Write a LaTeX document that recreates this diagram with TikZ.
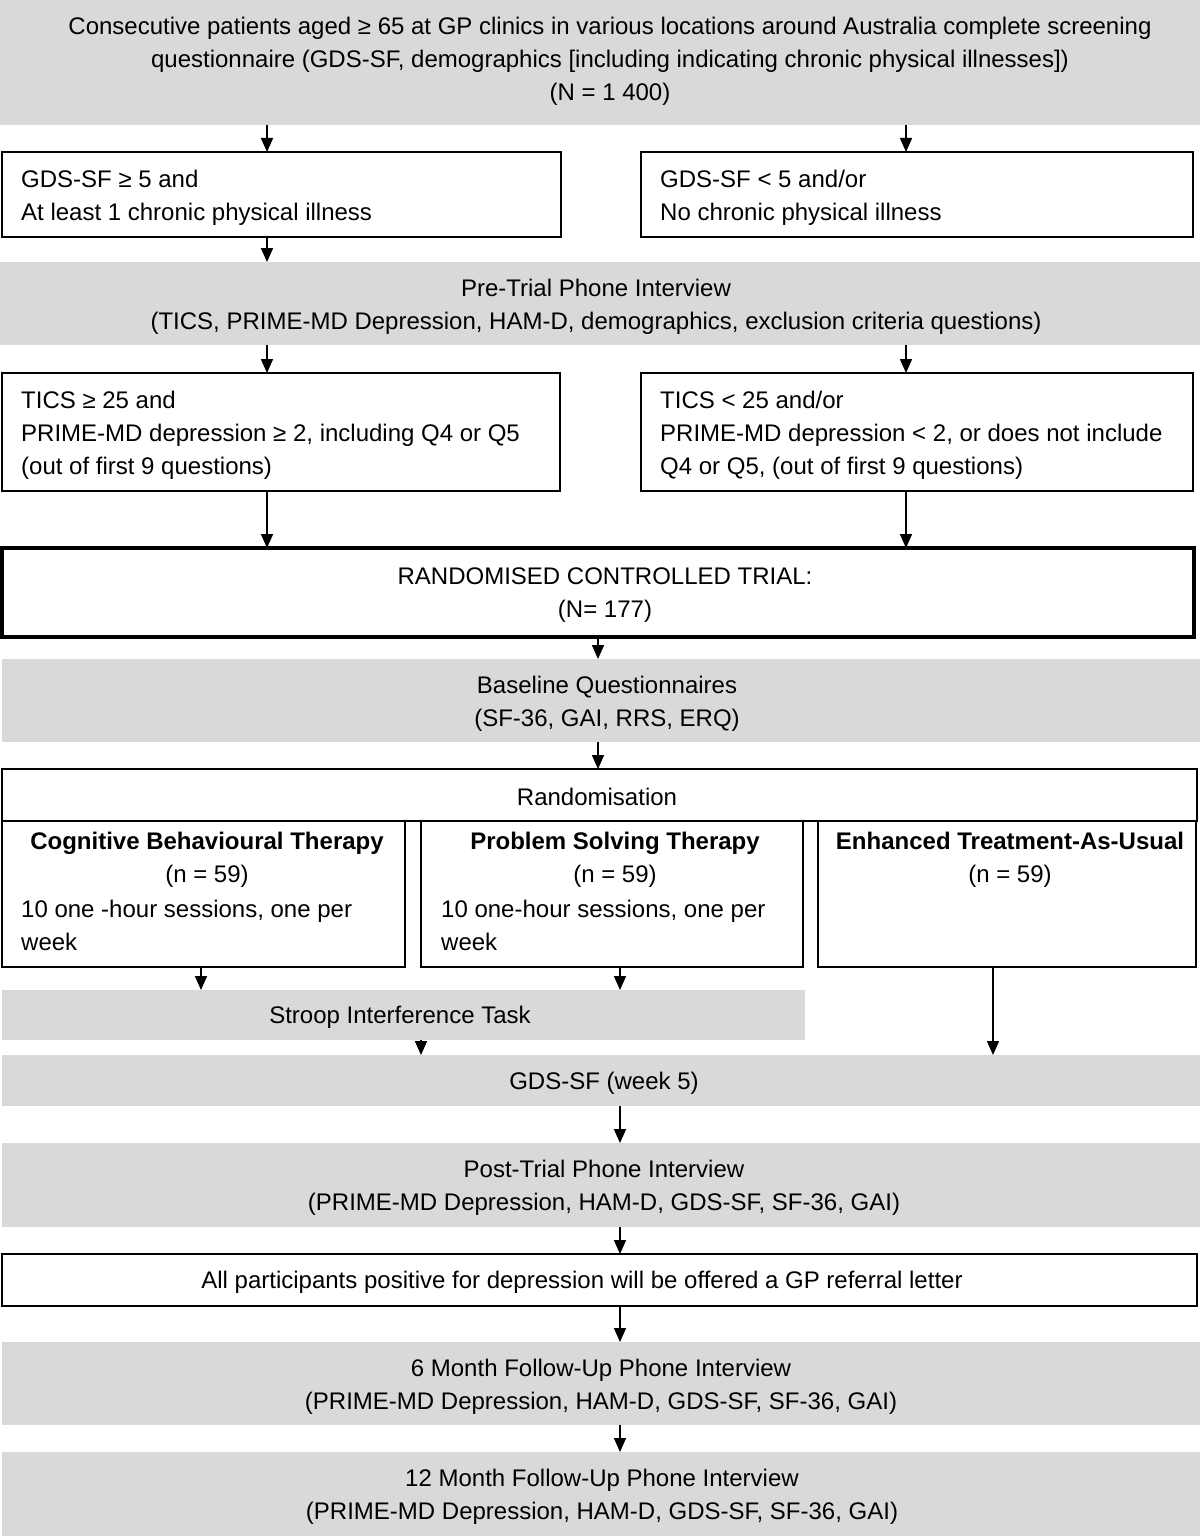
\documentclass[tikz,border=0pt]{standalone}
\usepackage{fontspec}
\setmainfont{Liberation Sans}
\usetikzlibrary{arrows.meta}
\definecolor{boxgray}{RGB}{217,217,217}
\begin{document}
\begin{tikzpicture}[x=1pt,y=-1pt,
  every node/.style={font=\fontsize{24}{33}\selectfont},
  gbox/.style={fill=boxgray, draw=none, anchor=north west, inner sep=0, outer sep=0},
  wbox/.style={draw=black, line width=1.6pt, fill=white, anchor=north west, inner sep=0, outer sep=0},
  tbox/.style={wbox, line width=3.6pt},
  txt/.style={inner sep=0, align=center},
  ltxt/.style={inner sep=0, align=left, anchor=west},
  arr/.style={line width=1.7pt, -{Triangle[length=14pt,width=12pt]}}]
\useasboundingbox (0,0) rectangle (1200,1536);

% gray boxes
\node[gbox, minimum width=1200, minimum height=125] (top) at (0,0) {};
\node[gbox, minimum width=1200, minimum height=83] (pre) at (0,262) {};
\node[gbox, minimum width=1198, minimum height=83] (base) at (2,659) {};
\node[gbox, minimum width=803, minimum height=50] (stroop) at (2,990) {};
\node[gbox, minimum width=1198, minimum height=51] (gds5) at (2,1055) {};
\node[gbox, minimum width=1198, minimum height=84] (post) at (2,1143) {};
\node[gbox, minimum width=1198, minimum height=83] (m6) at (2,1342) {};
\node[gbox, minimum width=1198, minimum height=84] (m12) at (2,1452) {};

% white boxes
\node[wbox, minimum width=559, minimum height=85] (A) at (2,152) {};
\node[wbox, minimum width=552, minimum height=85] (B) at (641,152) {};
\node[wbox, minimum width=558, minimum height=118] (C) at (2,373) {};
\node[wbox, minimum width=552, minimum height=118] (D) at (641,373) {};
\node[tbox, minimum width=1192, minimum height=89] (rct) at (2,548) {};
\node[wbox, minimum width=1195, minimum height=52] (rand) at (2,769) {};
\node[wbox, minimum width=403, minimum height=146] (cbt) at (2,821) {};
\node[wbox, minimum width=382, minimum height=146] (pst) at (421,821) {};
\node[wbox, minimum width=378, minimum height=146] (etau) at (818,821) {};
\node[wbox, minimum width=1195, minimum height=52] (all) at (2,1254) {};

% texts
\node[txt] (topt) at (610,61) {Consecutive patients aged ≥ 65 at GP clinics in various locations around Australia complete screening\\questionnaire (GDS-SF, demographics [including indicating chronic physical illnesses])\\(N = 1 400)};
\node[ltxt] (At) at (21,198) {GDS-SF ≥ 5 and\\At least 1 chronic physical illness};
\node[ltxt] (Bt) at (660,198) {GDS-SF < 5 and/or\\No chronic physical illness};
\node[txt] (pret) at (596,307) {Pre-Trial Phone Interview\\(TICS, PRIME-MD Depression, HAM-D, demographics, exclusion criteria questions)};
\node[ltxt] (Ct) at (21,435) {TICS ≥ 25 and\\PRIME-MD depression ≥ 2, including Q4 or Q5\\(out of first 9 questions)};
\node[ltxt] (Dt) at (660,435) {TICS < 25 and/or\\PRIME-MD depression < 2, or does not include\\Q4 or Q5, (out of first 9 questions)};
\node[txt] (rctt) at (605,595) {RANDOMISED CONTROLLED TRIAL:\\(N= 177)};
\node[txt] (baset) at (607,704) {Baseline Questionnaires\\(SF-36, GAI, RRS, ERQ)};
\node[txt] (randt) at (597,797) {Randomisation};
\node[txt, anchor=north] (cbth) at (207,832) {\bfseries Cognitive Behavioural Therapy\\(n = 59)};
\node[ltxt] (cbtb) at (21,925) {10 one -hour sessions, one per\\week};
\node[txt, anchor=north] (psth) at (615,832) {\bfseries Problem Solving Therapy\\(n = 59)};
\node[ltxt] (pstb) at (441,925) {10 one-hour sessions, one per\\week};
\node[txt, anchor=north] (etauh) at (1010,832) {\bfseries Enhanced Treatment-As-Usual\\(n = 59)};
\node[txt] (stroopt) at (400,1017) {Stroop Interference Task};
\node[txt] (gds5t) at (604,1083) {GDS-SF (week 5)};
\node[txt] (postt) at (604,1188) {Post-Trial Phone Interview\\(PRIME-MD Depression, HAM-D, GDS-SF, SF-36, GAI)};
\node[txt] (allt) at (582,1282) {All participants positive for depression will be offered a GP referral letter};
\node[txt] (m6t) at (601,1387) {6 Month Follow-Up Phone Interview\\(PRIME-MD Depression, HAM-D, GDS-SF, SF-36, GAI)};
\node[txt] (m12t) at (602,1497) {12 Month Follow-Up Phone Interview\\(PRIME-MD Depression, HAM-D, GDS-SF, SF-36, GAI)};

% x positions of connectors
\coordinate (xl) at (267,0);
\coordinate (xr) at (906,0);
\coordinate (xm) at (598,0);
\coordinate (xc) at (201,0);
\coordinate (xp) at (620,0);
\coordinate (xs) at (421,0);
\coordinate (xe) at (993,0);

% connectors
\draw[arr] (top.south -| xl) -- (A.north -| xl);
\draw[arr] (top.south -| xr) -- (B.north -| xr);
\draw[arr] (A.south -| xl) -- (pre.north -| xl);
\draw[arr] (pre.south -| xl) -- (C.north -| xl);
\draw[arr] (pre.south -| xr) -- (D.north -| xr);
\draw[arr] (C.south -| xl) -- (rct.north -| xl);
\draw[arr] (D.south -| xr) -- (rct.north -| xr);
\draw[arr] (rct.south -| xm) -- (base.north -| xm);
\draw[arr] (base.south -| xm) -- (rand.north -| xm);
\draw[arr] (cbt.south -| xc) -- (stroop.north -| xc);
\draw[arr] (pst.south -| xp) -- (stroop.north -| xp);
\draw[arr] (stroop.south -| xs) -- (gds5.north -| xs);
\draw[arr] (etau.south -| xe) -- (gds5.north -| xe);
\draw[arr] (gds5.south -| xp) -- (post.north -| xp);
\draw[arr] (post.south -| xp) -- (all.north -| xp);
\draw[arr] (all.south -| xp) -- (m6.north -| xp);
\draw[arr] (m6.south -| xp) -- (m12.north -| xp);
\end{tikzpicture}
\end{document}
